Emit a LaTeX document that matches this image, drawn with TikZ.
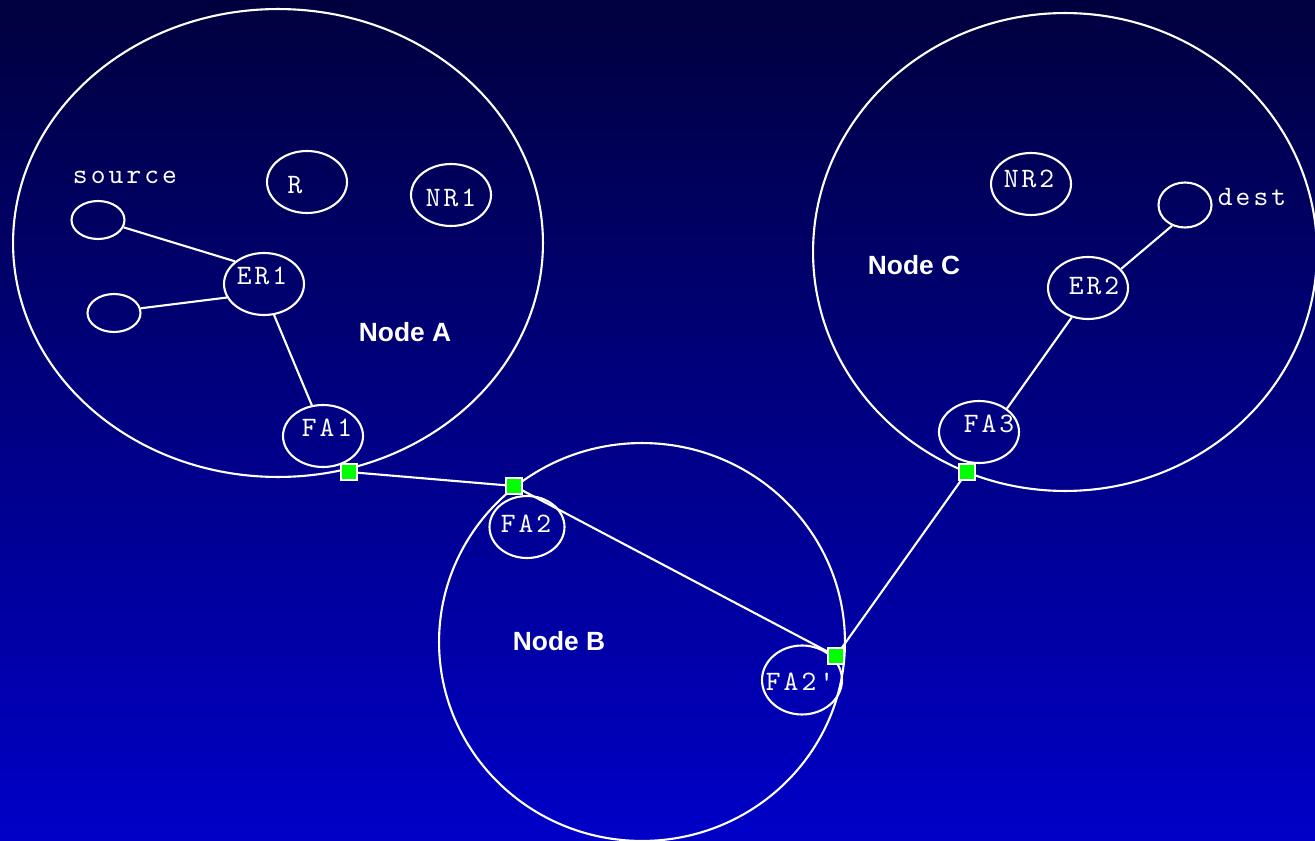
\documentclass[tikz,border=0pt]{standalone}
\usepackage{fontspec}
\setmainfont{Liberation Sans}
\newfontfamily\monofont{lmmono10-regular.otf}[LetterSpace=11]
\usetikzlibrary{shapes.geometric}

\definecolor{bgtop}{RGB}{0,0,62}
\definecolor{bgbot}{RGB}{0,0,200}
\definecolor{portgreen}{RGB}{0,255,0}

\newcommand{\monotext}{\monofont\fontsize{16}{16}\selectfont}

\begin{document}
\begin{tikzpicture}[x=0.02cm, y=0.02cm]
	\tikzstyle{every node}+=[inner sep=0pt]
	\tikzstyle{every label}+=[text=white, font=\monotext]
	\tikzstyle{net}=[draw=white, line width=1.2pt, ellipse]
	\tikzstyle{host}=[draw=white, line width=1.2pt, ellipse, minimum width=1.6cm, minimum height=1.24cm]
	\tikzstyle{stub}=[host, minimum width=1.06cm, minimum height=0.76cm]
	\tikzstyle{port}=[draw=white, line width=1.1pt, fill=portgreen, minimum size=0.33cm]
	\tikzstyle{link}=[white, line width=1.2pt]
	\tikzstyle{title}=[text=white, font=\bfseries\fontsize{15}{15}\selectfont]
	\tikzstyle{tag}=[text=white, font=\monotext]
	% background
	\shade [top color=bgtop, bottom color=bgbot] (0,0) rectangle (1315,-841);
	\useasboundingbox (0,0) rectangle (1315,-841);
	% the three networks
	\node [net, minimum width=10.6cm, minimum height=9.36cm] (nodeA) at (278,-243) {};
	\node [net, minimum width=8.12cm, minimum height=7.96cm] (nodeB) at (642,-642) {};
	\node [net, minimum width=10.08cm, minimum height=9.56cm] (nodeC) at (1065,-252) {};
	\node [title] at (405,-332) {Node A};
	\node [title] at (559,-641) {Node B};
	\node [title] at (914,-265) {Node C};
	% hosts and routers in A
	\node [stub] (src) at (98,-220) {};
	\node [tag] at (125,-177) {source};
	\node [stub] (host2) at (114,-313) {};
	\node [host, label={[shift={(-2,8)}]center:ER1}] (er1) at (264,-284) {};
	\node [host, label={[shift={(-12,-3)}]center:R}] (r) at (307,-182) {};
	\node [host, label={[shift={(0,-3)}]center:NR1}] (nr1) at (451,-195) {};
	\node [host, label={[shift={(4,8)}]center:FA1}] (fa1) at (323,-436) {};
	% B
	\node [host, minimum width=1.5cm, label={[shift={(-1,3)}]center:FA2}] (fa2) at (527,-527) {};
	\node [host, minimum height=1.38cm, label={[shift={(-2,-2)}]center:FA2'}] (fa2b) at (802,-680) {};
	% C
	\node [host, label={[shift={(-2,5)}]center:NR2}] (nr2) at (1031,-184) {};
	\node [host, label={[shift={(6,2)}]center:ER2}] (er2) at (1088,-288) {};
	\node [host, label={[shift={(10,8)}]center:FA3}] (fa3) at (979,-432) {};
	\node [stub, minimum height=0.9cm] (dst) at (1185,-205) {};
	\node [tag] at (1252,-197) {dest};
	% links
	\draw [link] (src.-16) -- (er1.142);
	\draw [link] (host2.10) -- (er1.200);
	\draw [link] (er1.-72) -- (fa1.110);
	\draw [link] (fa3.40) -- (er2.-119);
	\draw [link] (er2.30) -- (dst.-122);
	\coordinate (pA) at (349,-472);
	\coordinate (pB) at (514,-486);
	\coordinate (pB2) at (836,-656);
	\coordinate (pC) at (967,-472);
	\draw [link] (pA) -- (pB) -- (pB2) -- (pC);
	% foreign agent ports
	\foreach \p in {pA,pB,pB2,pC}
		\node [port] at (\p) {};
\end{tikzpicture}
\end{document}
